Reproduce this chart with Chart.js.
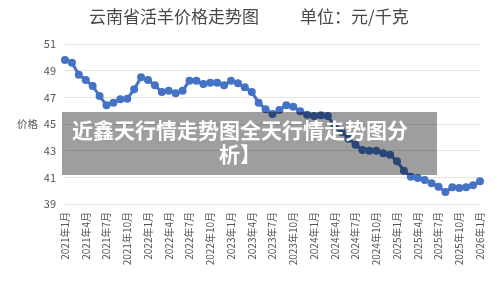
<!DOCTYPE html>
<html>
<head>
<meta charset="utf-8">
<script src="https://cdn.jsdelivr.net/npm/chart.js@4/dist/chart.umd.min.js"></script>
<style>
  html, body { margin: 0; padding: 0; background: #fff; }
  #wrap { position: relative; width: 500px; height: 287px; overflow: hidden; }
  #overlay {
    position: absolute; left: 62px; top: 112px; width: 375px; height: 63px;
    box-sizing: border-box; padding: 5px 19px 0 0;
    background: rgba(0,0,0,0.38); color: #fff; text-align: center;
    font: bold 21px/24px "Noto Sans CJK SC", sans-serif;
  }
</style>
</head>
<body>
<div id="wrap">
  <canvas id="c" width="500" height="287"></canvas>
  <div id="overlay">近鑫天行情走势图全天行情走势图分析】</div>
</div>
<script>
const years = [2021, 2022, 2023, 2024, 2025, 2026];
const categories = [];
for (const y of years) {
  for (let m = 1; m <= 12; m++) {
    categories.push(y + '年' + m + '月');
    if (y === 2026) break;
  }
}
const prices = [
  49.8, 49.6, 48.7, 48.3, 47.85, 47.1, 46.4, 46.6, 46.85, 46.9, 47.6, 48.5,
  48.3, 47.9, 47.4, 47.5, 47.3, 47.5, 48.25, 48.25, 48.0, 48.1, 48.1, 47.9,
  48.25, 48.05, 47.75, 47.4, 46.6, 46.1, 45.75, 46.05, 46.4, 46.3, 45.95, 45.7,
  45.6, 45.65, 45.6, 44.8, 44.4, 43.9, 43.45, 43.05, 43.0, 43.0, 42.8, 42.7,
  42.2, 41.5, 41.05, 40.95, 40.8, 40.55, 40.3, 39.9, 40.25, 40.2, 40.25, 40.4,
  40.7
];
const yTicks = [39, 41, 43, 45, 47, 49, 51];
const titleMain = '云南省活羊价格走势图';
const titleUnit = '单位：元/千克';
const yTitle = '价格';

const FONT = '"Noto Sans CJK SC", sans-serif';

const textPlugin = {
  id: 'texts',
  afterDraw(chart) {
    const ctx = chart.ctx;
    ctx.save();
    ctx.fillStyle = '#484848';
    ctx.font = '17px ' + FONT;
    ctx.textAlign = 'left';
    ctx.textBaseline = 'middle';
    ctx.fillText(titleMain, 89, 17);
    ctx.fillText(titleUnit, 300, 17);
    ctx.fillStyle = '#555';
    ctx.font = '10.5px ' + FONT;
    ctx.fillText(yTitle, 17, chart.scales.y.getPixelForValue(45));
    ctx.restore();
  }
};

new Chart(document.getElementById('c'), {
  type: 'line',
  data: {
    labels: categories,
    datasets: [{
      data: prices,
      borderColor: '#4472C4',
      backgroundColor: '#4472C4',
      borderWidth: 3,
      pointRadius: 4,
      pointBorderWidth: 0,
      tension: 0,
      clip: false
    }]
  },
  options: {
    responsive: false,
    animation: false,
    devicePixelRatio: 1,
    layout: { padding: { top: 44, right: 19, left: 0, bottom: 0 } },
    plugins: { legend: { display: false }, title: { display: false }, tooltip: { enabled: false } },
    scales: {
      x: {
        offset: false,
        grid: { display: false, drawTicks: false },
        border: { display: false },
        afterFit(s) { s.height = 83; },
        ticks: {
          autoSkip: false,
          minRotation: 90, maxRotation: 90,
          padding: 8,
          color: '#555',
          font: { size: 10, family: FONT },
          callback(v, i) { return i % 3 === 0 ? categories[i] : ''; }
        }
      },
      y: {
        min: 39, max: 51,
        afterFit(s) { s.width = 65; },
        afterBuildTicks(s) { s.ticks = yTicks.map(v => ({ value: v })); },
        grid: { color: '#e3e3e3', drawTicks: false, lineWidth: 1 },
        border: { display: false },
        ticks: {
          padding: 9,
          color: '#555',
          font: { size: 11, family: FONT }
        }
      }
    }
  },
  plugins: [textPlugin]
});
</script>
</body>
</html>
